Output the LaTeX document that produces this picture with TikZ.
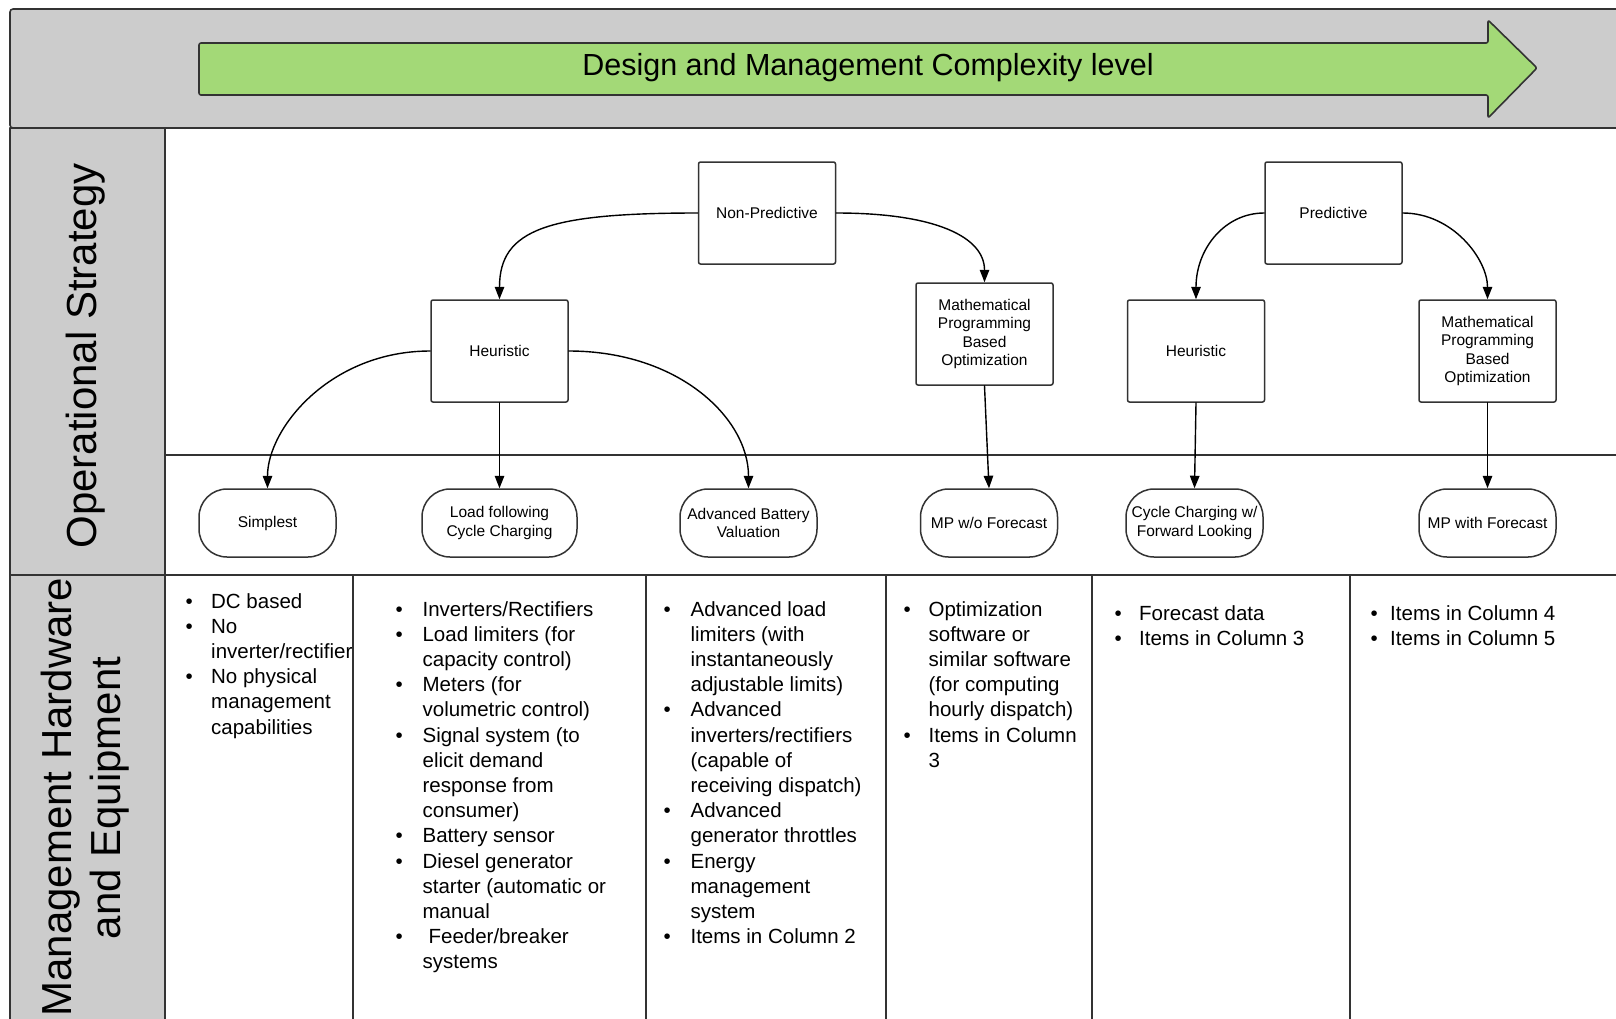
\documentclass[tikz,border=0pt]{standalone}
\usepackage{fontspec}
\setmainfont{Liberation Sans}
\usepackage{tikz}
\usetikzlibrary{arrows.meta}
\definecolor{panelgray}{RGB}{204,204,204}
\definecolor{arrowgreen}{RGB}{163,217,119}
\definecolor{edgegray}{RGB}{51,51,51}
\newcommand{\bul}{\textbullet}
\newcommand{\hwlist}[2]{\begin{tabular}[t]{@{}p{#1}@{}l@{}}#2\end{tabular}}

\begin{document}
\begin{tikzpicture}[line cap=round,line join=round,>={Triangle[length=12.5pt,width=9.5pt]},x=1pt,y=-1pt,
  stratbox/.style={draw=edgegray,line width=1.5pt,rounded corners=2pt,fill=white,minimum width=137pt,minimum height=102pt,inner sep=2pt,align=center,font=\fontsize{15.5}{18.5}\selectfont},
  leafbox/.style={draw=edgegray,line width=1.5pt,rounded corners=28pt,fill=white,minimum width=137pt,minimum height=68pt,inner sep=2pt,align=center,font=\fontsize{15.5}{18.5}\selectfont},
  itemlist/.style={anchor=base west,inner sep=0pt,font=\fontsize{20.5}{25.2}\selectfont},
  sidelabel/.style={rotate=90,anchor=base,inner sep=0pt,font=\fontsize{42}{48}\selectfont},
  link/.style={->,line width=1.4pt}]
\useasboundingbox (0,0) rectangle (1616,1018);
\clip (0,0) rectangle (1616,1018);
\fill[white] (0,0) rectangle (1616,1018);

\draw[fill=panelgray,draw=edgegray,line width=1.6pt,rounded corners=3pt] (10,9) rectangle (1640,128);
\draw[fill=arrowgreen,draw=edgegray,line width=1.6pt,rounded corners=2pt] (199,43) -- (1488,43) -- (1488,20) -- (1537,68) -- (1488,118) -- (1488,95) -- (199,95) -- cycle;
\node[anchor=base,inner sep=0pt,font=\fontsize{30.5}{36}\selectfont] (complexity) at (868,75) {Design and Management Complexity level};

\draw[fill=panelgray,draw=edgegray,line width=1.5pt] (10,128) rectangle (165,1040);
\draw[edgegray,line width=1.5pt] (10,575) -- (1640,575);
\draw[edgegray,line width=1.5pt] (165,455) -- (1640,455);
\foreach \x in {353,646,886,1092,1350}
  \draw[edgegray,line width=1.5pt] (\x,575) -- (\x,1040);

\node[sidelabel] (opstrat) at (96.5,356) {Operational Strategy};
\node[sidelabel] (mgmthw) at (71.7,797) {Management Hardware};
\node[sidelabel] (mgmteq) at (120,798) {and Equipment};

\node[stratbox] (nonpred) at (767,213) {Non-Predictive};
\node[stratbox] (heur) at (499.5,351) {Heuristic};
\node[stratbox] (mpopt) at (984.5,334) {Mathematical\\Programming\\Based\\Optimization};
\node[stratbox] (pred) at (1333.5,213) {Predictive};
\node[stratbox] (heurp) at (1196,351) {Heuristic};
\node[stratbox] (mpoptp) at (1487.5,351) {Mathematical\\Programming\\Based\\Optimization};

\node[leafbox] (simplest) at (267.5,523) {Simplest};
\node[leafbox,minimum width=155pt] (loadfol) at (499.5,523) {Load following\\Cycle Charging};
\node[leafbox] (advbat) at (748.5,523) {Advanced Battery\\Valuation};
\node[leafbox] (mpnofc) at (989,523) {MP w/o Forecast};
\node[leafbox] (cycfwd) at (1194.5,523) {Cycle Charging w/\\Forward Looking};
\node[leafbox] (mpfc) at (1487.5,523) {MP with Forecast};

\draw[link] (nonpred.west) .. controls +(-150,0) and +(0,-70) .. (heur.north);
\draw[link] (nonpred.east) .. controls +(100,0) and +(0,-45) .. (mpopt.north);
\draw[link] (heur.west) .. controls +(-100,0) and +(0,-60) .. (simplest.north);
\draw[link] (heur.east) .. controls +(110,0) and +(0,-70) .. (advbat.north);
\draw[link] (heur.south) -- (loadfol.north);
\draw[link] (mpopt.south) -- (mpnofc.north);
\draw[link] (pred.west) .. controls +(-40,0) and +(0,-50) .. (heurp.north);
\draw[link] (pred.east) .. controls +(50,0) and +(0,-40) .. (mpoptp.north);
\draw[link] (heurp.south) -- (cycfwd.north);
\draw[link] (mpoptp.south) -- (mpfc.north);

\begin{scope}
\clip (165,575) rectangle (352,1018);
\node[itemlist] (hwsimple) at (185.4,608) {\hwlist{25.6pt}{\bul & DC based\\ \bul & No\\ & inverter/rectifier\\ \bul & No physical\\ & management\\ & capabilities}};
\end{scope}
\node[itemlist] (hwload) at (395.4,616) {\hwlist{27pt}{\bul & Inverters/Rectifiers\\ \bul & Load limiters (for\\ & capacity control)\\ \bul & Meters (for\\ & volumetric control)\\ \bul & Signal system (to\\ & elicit demand\\ & response from\\ & consumer)\\ \bul & Battery sensor\\ \bul & Diesel generator\\ & starter (automatic or\\ & manual\\ \bul & \hspace{6pt}Feeder/breaker\\ & systems}};
\node[itemlist] (hwadv) at (663.4,616) {\hwlist{27pt}{\bul & Advanced load\\ & limiters (with\\ & instantaneously\\ & adjustable limits)\\ \bul & Advanced\\ & inverters/rectifiers\\ & (capable of\\ & receiving dispatch)\\ \bul & Advanced\\ & generator throttles\\ \bul & Energy\\ & management\\ & system\\ \bul & Items in Column 2}};
\node[itemlist] (hwmp) at (903.4,616) {\hwlist{25pt}{\bul & Optimization\\ & software or\\ & similar software\\ & (for computing\\ & hourly dispatch)\\ \bul & Items in Column\\ & 3}};
\node[itemlist] (hwcyc) at (1114.4,620.5) {\hwlist{24.6pt}{\bul & Forecast data\\ \bul & Items in Column 3}};
\node[itemlist] (hwmpfc) at (1370.4,620.5) {\hwlist{19.6pt}{\bul & Items in Column 4\\ \bul & Items in Column 5}};
\end{tikzpicture}
\end{document}
